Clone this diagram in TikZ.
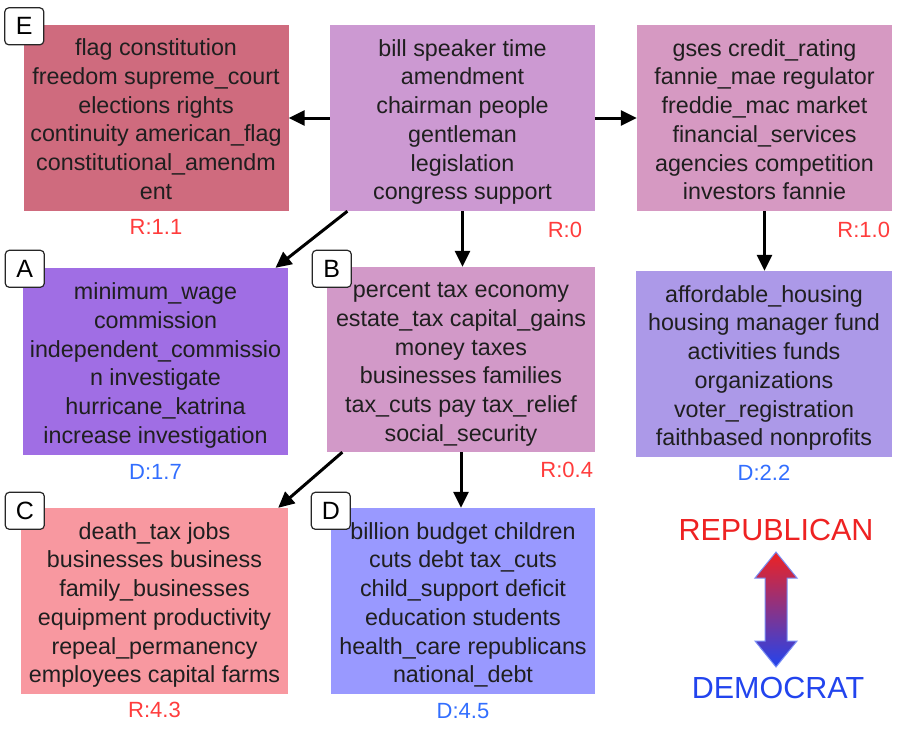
\documentclass[tikz,border=0pt]{standalone}
\usepackage{fontspec}
\setmainfont{Liberation Sans}
\usepackage{xcolor}
\usepackage{tikz}
\usetikzlibrary{shapes,arrows.meta,positioning}

\definecolor{flagc}{RGB}{207,107,126}
\definecolor{rootc}{RGB}{204,153,210}
\definecolor{gsesc}{RGB}{214,153,194}
\definecolor{wagec}{RGB}{160,110,228}
\definecolor{taxc}{RGB}{210,153,200}
\definecolor{housingc}{RGB}{172,153,232}
\definecolor{deathc}{RGB}{248,152,160}
\definecolor{budgetc}{RGB}{153,153,255}
\definecolor{repc}{RGB}{238,34,34}
\definecolor{demc}{RGB}{34,68,238}
\definecolor{scorerc}{RGB}{255,60,60}
\definecolor{scoredc}{RGB}{50,110,255}

\begin{document}
\begin{tikzpicture}[x=1pt,y=-1pt,
    topicbox/.style={rectangle, inner sep=0pt, align=center, text=black!88,
        minimum width=265pt, minimum height=186pt,
        font=\fontsize{23.3}{28.7}\selectfont,
        text height=167.5pt, text depth=4pt},
    tagbox/.style={draw=black!85, line width=1.2pt, rounded corners=4pt,
        fill=white, minimum width=39pt, minimum height=37pt, inner sep=0pt,
        font=\fontsize{25}{30}\selectfont},
    scoreR/.style={text=scorerc, inner sep=0pt, font=\fontsize{22}{26}\selectfont},
    scoreD/.style={text=scoredc, inner sep=0pt, font=\fontsize{22}{26}\selectfont},
    party/.style={inner sep=0pt, font=\fontsize{30.5}{36}\selectfont},
    link/.style={line width=3pt, -{Triangle[length=16pt,width=15pt]}}
    ]
    \useasboundingbox (0,0) rectangle (904,732);

    % topic boxes
    \node[topicbox, fill=flagc] (flag) at (156,117.5)
        {flag constitution\\freedom supreme\_court\\elections rights\\continuity american\_flag\\constitutional\_amendm\\ent};
    \node[topicbox, fill=rootc] (root) at (462.5,118)
        {bill speaker time\\amendment\\chairman people\\gentleman\\legislation\\congress support};
    \node[topicbox, fill=gsesc, minimum width=255pt] (gses) at (764.5,118)
        {gses credit\_rating\\fannie\_mae regulator\\freddie\_mac market\\financial\_services\\agencies competition\\investors fannie};
    \node[topicbox, fill=wagec, minimum height=187pt] (wage) at (155.5,361.5)
        {minimum\_wage\\commission\\independent\_commissio\\n investigate\\hurricane\_katrina\\increase investigation};
    \node[topicbox, fill=taxc, minimum width=268pt, minimum height=185pt] (tax) at (461,359.5)
        {percent tax economy\\estate\_tax capital\_gains\\money taxes\\businesses families\\tax\_cuts pay tax\_relief\\social\_security};
    \node[topicbox, fill=housingc, minimum width=256pt] (housing) at (764,364)
        {affordable\_housing\\housing manager fund\\activities funds\\organizations\\voter\_registration\\faithbased nonprofits};
    \node[topicbox, fill=deathc, minimum width=267pt] (death) at (154.5,601)
        {death\_tax jobs\\businesses business\\family\_businesses\\equipment productivity\\repeal\_permanency\\employees capital farms};
    \node[topicbox, fill=budgetc, minimum width=264pt] (budget) at (463,601)
        {billion budget children\\cuts debt tax\_cuts\\child\_support deficit\\education students\\health\_care republicans\\national\_debt};

    % letter tags
    \node[tagbox] (tagE) at ([xshift=1pt,yshift=-2pt]flag.north west) {E};
    \node[tagbox] (tagA) at ([xshift=2pt,yshift=-1pt]wage.north west) {A};
    \node[tagbox] (tagB) at ([xshift=5pt,yshift=-2pt]tax.north west) {B};
    \node[tagbox] (tagC) at ([xshift=4pt,yshift=-3pt]death.north west) {C};
    \node[tagbox] (tagD) at ([xshift=0pt,yshift=-3pt]budget.north west) {D};

    % scores
    \node[scoreR, below=8pt of flag] (sflag) {R:1.1};
    \node[scoreR, anchor=north east] (sroot) at ([xshift=-13pt,yshift=-11pt]root.south east) {R:0};
    \node[scoreR, anchor=north east] (sgses) at ([xshift=-2pt,yshift=-11pt]gses.south east) {R:1.0};
    \node[scoreD, below=9pt of wage] (swage) {D:1.7};
    \node[scoreR, anchor=north east] (stax) at ([xshift=-2pt,yshift=-10pt]tax.south east) {R:0.4};
    \node[scoreD, below=8pt of housing] (shousing) {D:2.2};
    \node[scoreR, below=8pt of death] (sdeath) {R:4.3};
    \node[scoreD, below=9pt of budget] (sbudget) {D:4.5};

    % links
    \draw[link] (root.west) -- (root.west -| flag.east);
    \draw[link] (root.east) -- (root.east -| gses.west);
    \draw[link] (root.219) -- (wage.38);
    \draw[link] (root.south) -- (root.south |- tax.north);
    \draw[link] (gses.south) -- (gses.south |- housing.north);
    \draw[link] (tax.218) -- (death.37);
    \draw[link] (tax.south) -- (tax.south |- budget.north);

    % legend
    \node[party, text=repc] (rep) at (776,530) {REPUBLICAN};
    \node[party, text=demc] (dem) at (778,688) {DEMOCRAT};
    \shadedraw[top color=repc, bottom color=demc, draw=demc!60, line width=1pt]
        (776,552) -- (797,578) -- (787,578) -- (787,641) -- (797,641) -- (776,667)
        -- (755,641) -- (765,641) -- (765,578) -- (755,578) -- cycle;
\end{tikzpicture}
\end{document}
